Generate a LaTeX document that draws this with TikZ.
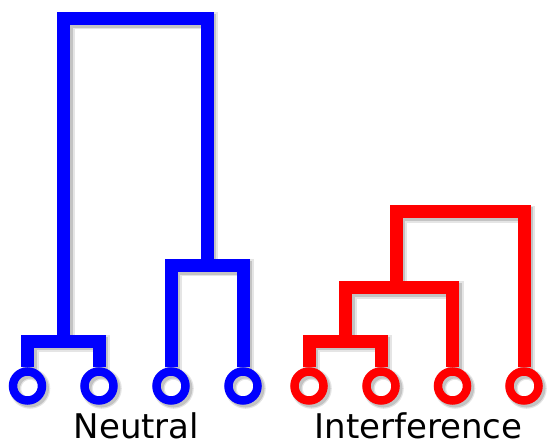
\documentclass[tikz,border=0pt]{standalone}
\usepackage{fontspec}
\setmainfont{DejaVu Sans}
\pgfdeclarelayer{shadowlayer}
\pgfsetlayers{shadowlayer,main}
\tikzset{
  bluecol/.style={draw={rgb,255:red,0;green,0;blue,255}},
  redcol/.style={draw={rgb,255:red,255;green,0;blue,0}},
  branch/.style={line width=13pt, line join=miter},
  leaf/.style={circle, minimum size=29pt, inner sep=0pt, line width=8.5pt, outer sep=4.25pt},
  shade1/.style={draw=black, opacity=0.10, line width=17pt},
  shade2/.style={draw=black, opacity=0.15, line width=13.5pt},
  label/.style={anchor=base, font=\fontsize{34}{40}\selectfont, text=black, inner sep=0pt}
}
\newcommand\bluetree[1]{%
  \draw[#1] (b1.north) |- (sb1) -| (b2.north);
  \draw[#1] (b3.north) |- (sb2) -| (b4.north);
  \draw[#1] (sb1) |- (topb) -| (sb2);
}
\newcommand\redtree[1]{%
  \draw[#1] (r1.north) |- (sr1) -| (r2.north);
  \draw[#1] (sr1) |- (sr2) -| (r3.north);
  \draw[#1] (sr2) |- (topr) -| (r4.north);
}
\newcommand\ringshadows[1]{%
  \foreach \n in {b1,b2,b3,b4,r1,r2,r3,r4} {\draw[#1] (\n.center) circle[radius=14.5pt];}
}
\begin{document}
\begin{tikzpicture}[x=1pt,y=-1pt]
\useasboundingbox (0,0) rectangle (548,443);
% leaves
\node[leaf, bluecol] (b1) at (27.5,386) {};
\node[leaf, bluecol] (b2) at (99,386) {};
\node[leaf, bluecol] (b3) at (171,386) {};
\node[leaf, bluecol] (b4) at (243,386) {};
\node[leaf, redcol] (r1) at (309,386) {};
\node[leaf, redcol] (r2) at (381,386) {};
\node[leaf, redcol] (r3) at (452.5,386) {};
\node[leaf, redcol] (r4) at (524,386) {};
% joints
\coordinate (sb1) at (63.5,341);
\coordinate (sb2) at (207,265.5);
\coordinate (topb) at (135,18.5);
\coordinate (sr1) at (345.5,341);
\coordinate (sr2) at (396,287.5);
\coordinate (topr) at (460,211.7);
% shadows
\begin{pgfonlayer}{shadowlayer}
\begin{scope}[transform canvas={shift={(2.5pt,-2.5pt)}}]
  \bluetree{shade1}
  \bluetree{shade2}
  \redtree{shade1}
  \redtree{shade2}
  \ringshadows{shade1, line width=11.5pt}
  \ringshadows{shade2, line width=9pt}
\end{scope}
\end{pgfonlayer}
% branches
\bluetree{branch, bluecol}
\redtree{branch, redcol}
% labels
\node[label] (neutral) at (136.5,438.5) {Neutral};
\node[label] (interf) at (418.5,438.5) {Interference};
\end{tikzpicture}
\end{document}
